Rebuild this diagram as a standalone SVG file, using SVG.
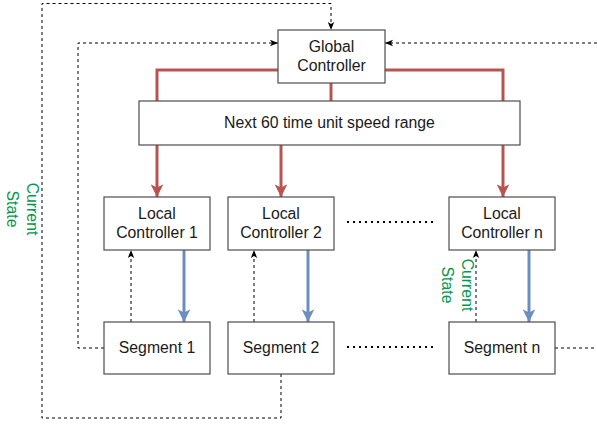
<svg xmlns="http://www.w3.org/2000/svg" width="597" height="426" viewBox="0 0 597 426">
<style>
.box{fill:#fff;stroke:#4d4d4d;stroke-width:1.2}
.t{font-family:"Liberation Sans",Arial,sans-serif;font-size:15.8px;fill:#1a1a1a;text-anchor:middle}
.g{font-family:"Liberation Sans",Arial,sans-serif;font-size:15.8px;fill:#00994d;text-anchor:middle}
.red{fill:none;stroke:#b85450;stroke-width:3}
.blue{fill:none;stroke:#6c8ebf;stroke-width:3}
.dash{fill:none;stroke:#000;stroke-width:1;stroke-dasharray:3 3}
.dot{fill:none;stroke:#000;stroke-width:2;stroke-dasharray:2 4}
</style>
<defs>
<marker id="ar" viewBox="0 0 10 10" refX="10" refY="5" markerWidth="4.2" markerHeight="4.2" orient="auto" markerUnits="strokeWidth"><path d="M0,0 L10,5 L0,10 L2.5,5 Z" fill="#b85450"/></marker>
<marker id="ab" viewBox="0 0 10 10" refX="10" refY="5" markerWidth="4.2" markerHeight="4.2" orient="auto" markerUnits="strokeWidth"><path d="M0,0 L10,5 L0,10 L2.5,5 Z" fill="#6c8ebf"/></marker>
<marker id="ak" viewBox="0 0 10 10" refX="10" refY="5" markerWidth="8" markerHeight="8" orient="auto" markerUnits="userSpaceOnUse"><path d="M0,1 L10,5 L0,9 L2.5,5 Z" fill="#000"/></marker>
</defs>
<g id="connectors">
<path class="red" d="M278,70 H157 V101"/>
<path class="red" d="M331,83 V101"/>
<path class="red" d="M385,70 H503 V101"/>
<path class="red" d="M157,145 V197" marker-end="url(#ar)"/>
<path class="red" d="M281,145 V197" marker-end="url(#ar)"/>
<path class="red" d="M503,145 V197" marker-end="url(#ar)"/>
<path class="blue" d="M184,250 V322" marker-end="url(#ab)"/>
<path class="blue" d="M308,250 V322" marker-end="url(#ab)"/>
<path class="blue" d="M529,250 V322" marker-end="url(#ab)"/>
<path class="dash" d="M131,322 V250" marker-end="url(#ak)"/>
<path class="dash" d="M254,322 V250" marker-end="url(#ak)"/>
<path class="dash" d="M476,322 V250" marker-end="url(#ak)"/>
<path class="dash" d="M281,374 V418 H42 V3.5 H331 V30" marker-end="url(#ak)"/>
<path class="dash" d="M104,348 H78 V43 H278" marker-end="url(#ak)"/>
<path class="dash" d="M597,43 H385" marker-end="url(#ak)"/>
<path class="dash" d="M555,348 H597"/>
<path class="dot" d="M347,222 H436"/>
<path class="dot" d="M347,347 H436"/>
</g>
<g id="global-controller">
<rect class="box" x="278" y="30" width="107" height="53"/>
<text class="t" x="331.5" y="52">Global</text>
<text class="t" x="331.5" y="71">Controller</text>
</g>
<g id="speed-range">
<rect class="box" x="139" y="101" width="381" height="44"/>
<text class="t" x="329.5" y="128">Next 60 time unit speed range</text>
</g>
<g id="local-controller-1">
<rect class="box" x="104" y="197" width="106" height="53"/>
<text class="t" x="157" y="219">Local</text>
<text class="t" x="157" y="238">Controller 1</text>
</g>
<g id="local-controller-2">
<rect class="box" x="228" y="197" width="106" height="53"/>
<text class="t" x="281" y="219">Local</text>
<text class="t" x="281" y="238">Controller 2</text>
</g>
<g id="local-controller-n">
<rect class="box" x="449" y="197" width="106" height="53"/>
<text class="t" x="502" y="219">Local</text>
<text class="t" x="502" y="238">Controller n</text>
</g>
<g id="segment-1">
<rect class="box" x="104" y="322" width="106" height="52"/>
<text class="t" x="157" y="353">Segment 1</text>
</g>
<g id="segment-2">
<rect class="box" x="228" y="322" width="106" height="52"/>
<text class="t" x="281" y="353">Segment 2</text>
</g>
<g id="segment-n">
<rect class="box" x="449" y="322" width="106" height="52"/>
<text class="t" x="502" y="353">Segment n</text>
</g>
<g id="label-current-state-left" transform="translate(22,209) rotate(90)">
<text class="g" x="0" y="-5">Current</text>
<text class="g" x="0" y="15">State</text>
</g>
<g id="label-current-state-right" transform="translate(456.5,285) rotate(90)">
<text class="g" x="0" y="-5">Current</text>
<text class="g" x="0" y="15">State</text>
</g>
</svg>
